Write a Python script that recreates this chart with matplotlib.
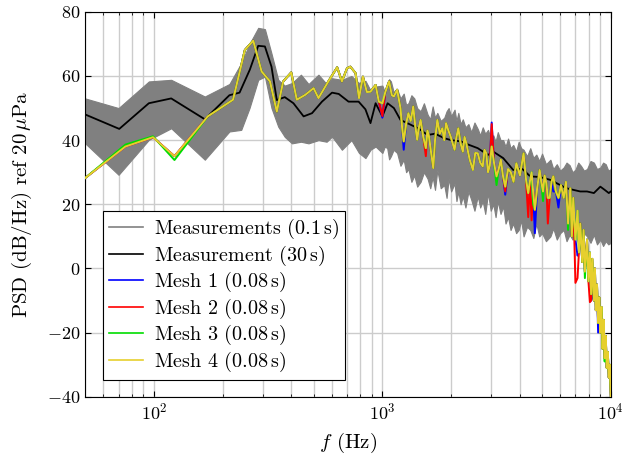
import numpy as np
import matplotlib
matplotlib.use("Agg")
import matplotlib.pyplot as plt
from matplotlib.lines import Line2D

plt.rcParams['font.family'] = 'serif'
plt.rcParams['font.serif'] = ['cmr10']
plt.rcParams['mathtext.fontset'] = 'cm'
plt.rcParams['axes.formatter.use_mathtext'] = True
plt.rcParams['font.size'] = 13

# measurement band (0.1 s), min / max envelope
f_band = [50, 70, 95, 119, 167, 214, 241, 262, 286, 306, 327, 350, 374, 402, 440, 475,
          525, 570, 602, 665, 732, 790, 843, 887, 934,
          1000, 1025, 1050, 1070, 1090, 1120, 1160, 1200, 1240, 1270,
          1300, 1340, 1380, 1420, 1470, 1520, 1577, 1620, 1660, 1700,
          1740, 1800, 1866, 1910, 1950, 2000, 2070, 2110, 2150, 2200,
          2250, 2310, 2380, 2450, 2530, 2615, 2680, 2750, 2820, 2900,
          2980, 3060, 3130, 3200, 3290, 3380, 3460, 3550, 3640, 3740,
          3850, 3950, 4050, 4150, 4300, 4440, 4580, 4720, 4860, 5000,
          5200, 5440, 5600, 5800, 6000, 6220, 6400, 6600, 6800, 7000,
          7200, 7400, 7630, 7870, 8150, 8430, 8700, 9000, 9250, 9500,
          9750, 10000]
band_upper = [53, 50, 58.3, 58.8, 53.6, 57.5, 64, 70, 75, 74.6, 67, 58.8, 57, 57.8, 60.4, 57.5,
              60.4, 57.5, 59.3, 58.8, 60, 57.8, 58.5, 55.5, 56.7,
              57, 55, 56.5, 59, 58.3, 55, 56, 53, 54.5, 51,
              51.5, 54, 53, 50, 49, 51.5, 48, 46.5, 50.5, 47,
              48.5, 46, 47, 49, 50, 47.5, 49.5, 46, 48.5, 45,
              46.5, 44, 45, 42.5, 45.5, 43.5, 41.5, 44, 42, 43.2,
              40.5, 41.5, 39.5, 42.5, 40, 40, 38, 40.5, 37.5, 38.5,
              36.5, 39.5, 37.5, 37, 35, 37.5, 34.5, 35.5, 33.5, 35.8,
              32.5, 33.9, 31, 32.5, 30.5, 31.5, 33, 32.2, 30, 30.8,
              33, 32, 30.5, 31, 33.5, 33, 31, 31.5, 33, 32.5,
              30.5, 31]
band_lower = [39, 29.2, 40.1, 43.7, 33.9, 42.7, 43.2, 50, 58.8, 59.8, 50, 44.2, 41, 39, 39.5, 39,
              40, 39.5, 41.1, 37, 40, 36, 34.4, 37, 38,
              36, 38, 37.5, 34, 35, 37, 36, 32, 33.9, 30,
              31, 27, 29, 25.5, 27, 30, 28, 25, 28.5, 24.5,
              30.7, 25, 26, 22, 28, 24, 26.5, 21, 24, 20,
              22.5, 19, 24, 21.4, 18, 22.5, 19, 21, 17, 23.5,
              18, 20, 16, 21, 17, 19.3, 14, 16, 12, 14,
              11, 12, 15, 10, 13, 12, 9.5, 14, 10, 11,
              8.5, 10, 12.5, 9, 11, 12, 8.5, 10.5, 9, 11,
              8, 9.5, 11, 10, 8, 10.5, 7.5, 9, 7, 8.5,
              7.5, 8]

# measurement 30 s
f_long = [50, 70.5, 95, 119, 167, 214, 237, 263, 286, 306, 327, 345, 374, 408, 452, 492, 544,
          602, 644, 711, 787, 843, 887, 934, 1000, 1054, 1123, 1200, 1330, 1450, 1577, 1700,
          1866, 2000, 2205, 2400, 2615, 2900, 3060, 3380, 3740, 4100, 4440, 4900, 5440, 6000,
          6400, 6850, 7350, 7870, 8430, 9000, 9400, 9800, 10000]
psd_long = [48, 43.5, 51.5, 53, 46.5, 54, 54.8, 62, 69.4, 69.2, 62.9, 52.5, 53.4, 51.5, 47.4, 48.4, 52,
            54.8, 54.4, 52, 52, 49.6, 45.3, 51.5, 47.4, 51.5, 50, 46.3, 44.8, 43.5, 41.6, 42,
            40.6, 40, 39.6, 38.5, 37.5, 35.4, 36.4, 34.4, 30.7, 31, 28.7, 28.5, 27.6, 26,
            25, 24.5, 24, 24, 23.5, 25.5, 24.5, 23.5, 24]

# simulations (0.08 s)
f_mesh = [50, 75, 99, 123, 172, 222, 250, 272, 296, 322,
          345, 368, 399, 422, 459, 500, 525, 580, 634, 665,
          700, 724, 763, 790, 822, 855, 887, 934, 965,
          1000, 1030, 1070, 1100, 1123, 1160, 1200, 1220, 1240, 1270,
          1300, 1330, 1365, 1390, 1420, 1445, 1470, 1510, 1550, 1575,
          1600, 1635, 1670, 1700, 1740, 1785, 1830, 1865, 1900, 1945,
          1990, 2030, 2070, 2110, 2150, 2200, 2250, 2290, 2330, 2410,
          2490, 2550, 2615, 2680, 2750, 2800, 2850, 2900, 2950, 3010,
          3080, 3160, 3230, 3300, 3370, 3450, 3550, 3650, 3750, 3860,
          4000, 4150, 4250, 4350, 4420, 4500, 4570, 4650, 4760, 4880,
          4960, 5050, 5130, 5220, 5300, 5400, 5500, 5600, 5750, 5900,
          6050, 6220, 6360, 6500, 6650, 6750, 6850, 7000, 7150, 7250,
          7350, 7500, 7600, 7700, 7870, 7980, 8100, 8200, 8300, 8430,
          8520, 8600, 8700, 8800, 8900, 9000, 9100, 9200, 9300, 9400,
          9500, 9600, 9700, 9800, 9900, 10000]
mesh1 = [28.2, 38.0, 40.9, 35.0, 47.4, 52.6, 68.1, 71.0, 61.4, 58.3,
         48.9, 58.3, 61.1, 52.6, 54.1, 56.2, 53.1, 58.3, 62.7, 58.3,
         62.4, 62.9, 60.9, 53.1, 59.8, 55.0, 55.1, 57.2, 52.0,
         47, 55, 58.3, 54, 53.6, 55.7, 50, 44, 37, 45,
         48.4, 46, 50.5, 45, 40.1, 44, 46.3, 41, 37.5, 43,
         41.1, 36, 31.3, 40, 46.3, 42, 43.7, 40, 45.3, 43,
         41.1, 39, 37, 41, 43.7, 39, 36.4, 41, 39, 34,
         30.7, 36, 35.9, 33, 31.8, 37, 35.9, 30, 32, 45.5,
         33, 28.7, 31, 33.9, 29, 23, 31, 30, 27, 32.8,
         29, 35.9, 28, 23.5, 27, 30, 24, 11, 25, 30.7,
         27, 24, 29, 26.6, 22, 22, 27, 24, 24, 19,
         26, 22, 27, 14, 25, 10, 22, 9, 4, 5,
         14, 2, 12, -1, 9, -4, 5, -10, -7, -10,
         0, -13, -5, -20, -9, -20, -12, -25, -20, -28,
         -21, -31, -26, -34, -30, -40]
mesh2 = [28.2, 38.0, 40.9, 35.0, 47.4, 52.6, 68.1, 71.0, 61.4, 58.3,
         48.9, 58.3, 61.1, 52.6, 54.1, 56.2, 53.1, 58.3, 62.7, 58.3,
         62.4, 62.9, 60.9, 53.1, 59.8, 55.0, 55.1, 57.2, 52.0,
         47.5, 55, 58.3, 54, 53.6, 55.7, 50, 44, 39.6, 45,
         48.4, 46, 50.5, 45, 40.1, 44, 46.3, 41, 35, 43,
         41.1, 36, 31.3, 40, 46.3, 42, 43.7, 40, 45.3, 43,
         41.1, 39, 37, 41, 43.7, 39, 36.4, 41, 39, 34,
         30.7, 36, 35.9, 33, 31.8, 37, 35.9, 30, 32, 45,
         33, 28.7, 31, 33.9, 29, 24, 31, 30, 27, 32.8,
         29, 35.9, 28, 16, 27, 15, 24, 18.3, 25, 30.7,
         27, 24, 29, 26.6, 14, 22, 27, 28.7, 24, 22,
         26, 22, 27, 14, 25, 10, 22, -4.5, -3, 5,
         14, 2, 12, -1, 9, -4, -10.5, -10, 3, -10,
         0, -13, -5, -17, -9, -20, -12, -25, -16, -28,
         -21, -31, -26, -34, -30, -40]
mesh3 = [28.2, 38.6, 41.2, 33.8, 47.4, 52.6, 68.1, 71.0, 61.4, 58.3,
         48.9, 58.3, 61.1, 52.6, 54.1, 56.2, 53.1, 58.3, 62.7, 58.3,
         62.4, 62.9, 60.9, 53.1, 59.8, 55.0, 55.1, 57.2, 52.0,
         51.5, 55, 58.3, 54, 53.6, 55.7, 50, 44, 39.6, 45,
         48.4, 46, 50.5, 45, 40.1, 44, 46.3, 41, 37.5, 43,
         41.1, 36, 31.3, 40, 46.3, 42, 43.7, 40, 45.3, 43,
         41.1, 39, 37, 41, 43.7, 39, 36.4, 41, 39, 34,
         30.7, 36, 35.9, 33, 31.8, 37, 35.9, 30, 32, 38,
         33, 26, 31, 33.9, 29, 25.5, 31, 30, 27, 32.8,
         29, 35.9, 28, 23.5, 27, 30, 20, 18.3, 25, 30.7,
         27, 21, 29, 26.6, 22, 22, 27, 28.7, 24, 22,
         26, 22, 27, 12, 25, 10, 22, 9, 18, 5,
         14, 2, 12, -3, 9, -4, 5, -8, 3, -10,
         0, -13, -5, -17, -9, -20, -12, -25, -16, -29,
         -21, -31, -26, -34, -30, -40]
mesh4 = [28.2, 38.0, 40.9, 35.0, 47.4, 52.6, 68.1, 71.0, 61.4, 58.3,
         48.9, 58.3, 61.1, 52.6, 54.1, 56.2, 53.1, 58.3, 62.7, 58.3,
         62.4, 62.9, 60.9, 53.1, 59.8, 55.0, 55.1, 57.2, 52.0,
         51.5, 55, 58.3, 54, 53.6, 55.7, 50, 44, 39.6, 45,
         48.4, 46, 50.5, 45, 40.1, 44, 46.3, 41, 37.5, 43,
         41.1, 36, 31.3, 40, 46.3, 42, 43.7, 40, 45.3, 43,
         41.1, 39, 37, 41, 43.7, 39, 36.4, 41, 39, 34,
         30.7, 36, 35.9, 33, 31.8, 37, 35.9, 30, 32, 38,
         33, 28.7, 31, 33.9, 29, 25.5, 31, 30, 27, 32.8,
         29, 35.9, 28, 23.5, 27, 30, 24, 18.3, 25, 30.7,
         27, 24, 29, 26.6, 22, 22, 27, 28.7, 24, 22,
         26, 22, 27, 14, 25, 10, 22, 9, 18, 5,
         14, 2, 12, -1, 9, -4, 5, -8, 3, -10,
         0, -13, -5, -17, -9, -20, -12, -25, -16, -28,
         -21, -31, -26, -34, -30, -40]

labels = [r'Measurements (0.1$\,$s)', r'Measurement (30$\,$s)', r'Mesh 1 (0.08$\,$s)',
          r'Mesh 2 (0.08$\,$s)', r'Mesh 3 (0.08$\,$s)', r'Mesh 4 (0.08$\,$s)']
colors = ['#808080', 'black', 'blue', 'red', '#00dd00', '#e6cf2e']

fig = plt.figure(figsize=(6.31, 4.54), dpi=100)
ax = fig.add_axes([0.135, 0.126, 0.833, 0.848])

ax.fill_between(f_band, band_lower, band_upper, color='#808080', lw=0.8, zorder=2)
ax.plot(f_long, psd_long, color='black', lw=1.3, zorder=3)
for y, c in zip([mesh1, mesh2, mesh3, mesh4], colors[2:]):
    ax.plot(f_mesh, y, color=c, lw=1.4, zorder=4)

ax.set_xscale('log')
ax.set_xlim(50, 1e4)
ax.set_ylim(-40, 80)
ax.set_yticks(np.arange(-40, 81, 20))
ax.grid(True, which='major', color='#cccccc', lw=1, zorder=0)
ax.grid(True, which='minor', axis='x', color='#cccccc', lw=1, zorder=0)
ax.set_axisbelow(True)
ax.tick_params(which='both', direction='in', top=True, right=True, labelsize=13)
ax.tick_params(which='major', length=4)
ax.tick_params(which='minor', length=2)

ax.set_xlabel(r'$f$ (Hz)', fontsize=15, labelpad=6)
ax.set_ylabel(r'PSD (dB/Hz) ref 20$\,\mu$Pa', fontsize=15, labelpad=9)

handles = [Line2D([], [], color=c, lw=1.2) for c in colors]
leg = ax.legend(handles, labels, loc='lower left', bbox_to_anchor=(0.034, 0.044),
                fancybox=False, framealpha=1, edgecolor='black', handlelength=1.7,
                handletextpad=0.55, borderaxespad=0, labelspacing=0.12,
                fontsize=14.5, borderpad=0.3)
leg.get_frame().set_linewidth(0.8)

fig.savefig('out.png', dpi=100)
